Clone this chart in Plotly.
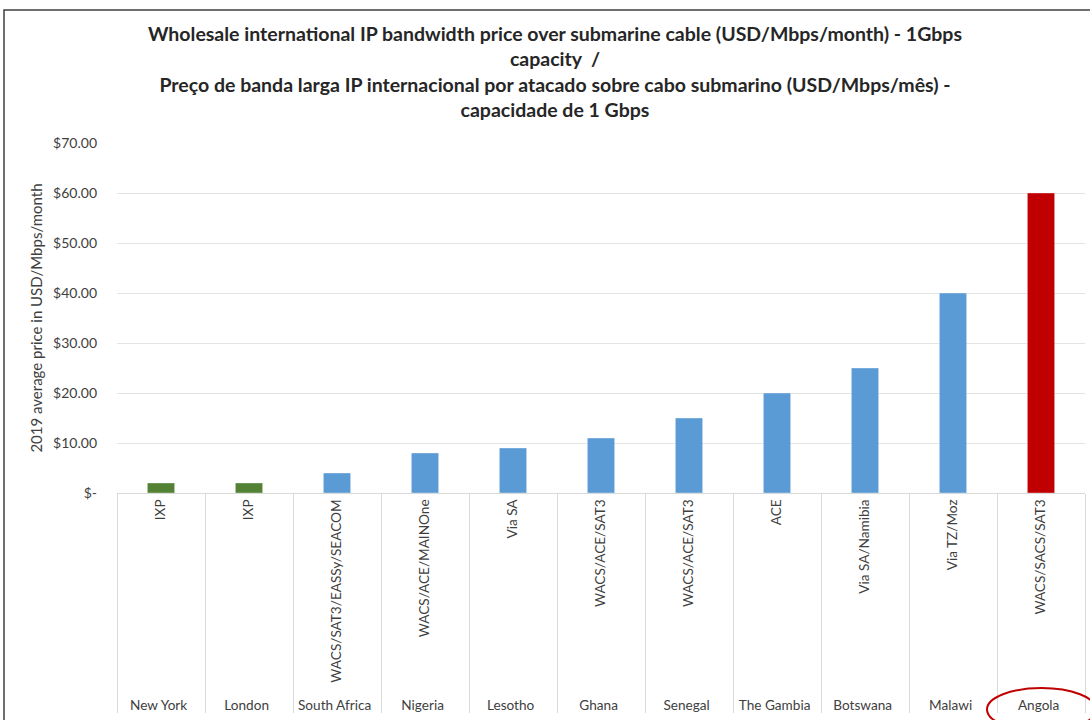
import plotly.graph_objects as go

countries = ["New York", "London", "South Africa", "Nigeria", "Lesotho", "Ghana",
             "Senegal", "The Gambia", "Botswana", "Malawi", "Angola"]
cables = ["IXP", "IXP", "WACS/SAT3/EASSy/SEACOM", "WACS/ACE/MAINOne", "Via SA",
          "WACS/ACE/SAT3", "WACS/ACE/SAT3", "ACE", "Via SA/Namibia", "Via TZ/Moz",
          "WACS/SACS/SAT3"]
prices = [2, 2, 4, 8, 9, 11, 15, 20, 25, 40, 60]
groups = ["ref", "ref", "africa", "africa", "africa", "africa", "africa", "africa",
          "africa", "africa", "highlight"]
group_colors = {"ref": "#548235", "africa": "#5B9BD5", "highlight": "#C00000"}

y_tickvals = [0, 10, 20, 30, 40, 50, 60, 70]
y_ticktext = ["$-", "$10.00", "$20.00", "$30.00", "$40.00", "$50.00", "$60.00", "$70.00"]

title_text = ("<b>Wholesale international IP bandwidth price over submarine cable (USD/Mbps/month) - 1Gbps<br>"
              "capacity  /<br>"
              "Preço de banda larga IP internacional por atacado sobre cabo submarino (USD/Mbps/mês) -<br>"
              "capacidade de 1 Gbps</b>")
y_title = "2019 average price in USD/Mbps/month"

FONT = "Lato"
W, H = 1090, 720
ml, mr, mt, mb = 117, 5, 143, 227
pw, ph = W - ml - mr, H - mt - mb

def px_x(p):
    return (p - ml) / pw

def px_y(p):
    return (H - mb - p) / ph

fig = go.Figure(go.Bar(
    x=[countries, cables],
    y=prices,
    width=0.31,
    marker=dict(color=[group_colors[g] for g in groups],
                line=dict(color="rgba(255,255,255,0.35)", width=1)),
    hovertemplate="%{x}: $%{y:.2f}<extra></extra>",
))

fig.update_layout(
    width=W, height=H,
    margin=dict(l=ml, r=mr, t=mt, b=mb, autoexpand=False),
    paper_bgcolor="white", plot_bgcolor="white",
    showlegend=False,
    font=dict(family=FONT, size=14, color="#404040"),
    title=dict(text=title_text, x=555 / W, xanchor="center", xref="container",
               y=1 - 41 / H, yanchor="middle", yref="container",
               font=dict(family=FONT, size=19.5, color="#262626")),
)

fig.update_xaxes(
    type="multicategory",
    tickangle=-90,
    showgrid=False,
    showline=True, linecolor="#D9D9D9", linewidth=1,
    showdividers=True, dividercolor="#D9D9D9", dividerwidth=1,
    ticks="", tickfont=dict(family=FONT, size=13.6, color="#404040"),
    automargin=False,
)
fig.update_yaxes(
    range=[0, 70],
    tickvals=y_tickvals, ticktext=y_ticktext,
    showgrid=True, gridcolor="#E3E3E3", gridwidth=1,
    zeroline=False, showline=False,
    ticklabelstandoff=19,
    tickfont=dict(family=FONT, size=14, color="#404040"),
    title=dict(text=y_title, font=dict(family=FONT, size=15, color="#404040"), standoff=6),
    automargin=False,
)

# chart border and highlight ellipse around Angola
fig.add_shape(type="rect", xref="paper", yref="paper",
              x0=px_x(4), x1=px_x(1200), y0=px_y(800), y1=px_y(10),
              line=dict(color="#404040", width=1.5), fillcolor="rgba(0,0,0,0)", layer="below")
fig.add_shape(type="circle", xref="paper", yref="paper",
              x0=px_x(987), x1=px_x(1096), y0=px_y(731), y1=px_y(688),
              line=dict(color="#C00000", width=2), fillcolor="rgba(0,0,0,0)")

fig.write_html("out.html")
